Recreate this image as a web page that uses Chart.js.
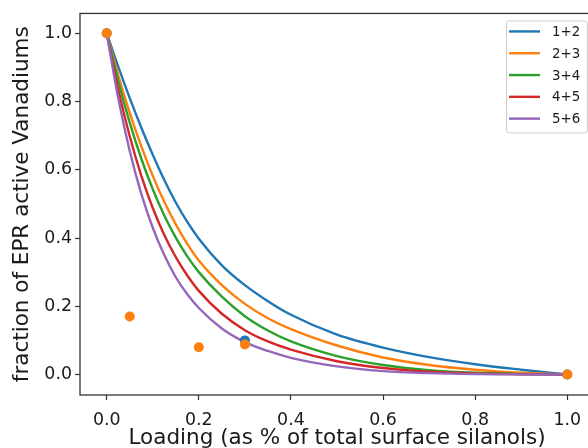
<!DOCTYPE html>
<html lang="en">
<head>
  <meta charset="UTF-8">
  <title>Fraction of EPR active Vanadiums</title>
  <script src="https://cdn.jsdelivr.net/npm/chart.js"></script>
  <style>
    html, body { margin: 0; padding: 0; background: #fff; overflow: hidden; }
    .wrap { width: 600px; height: 448px; }
  </style>
</head>
<body>
  <div class="wrap"><canvas id="eprChart" width="600" height="448"></canvas></div>

  <script>
    // loading grid used for the fitted curves
    const loading = [0, 0.025, 0.05, 0.075, 0.1, 0.125, 0.15, 0.175, 0.2, 0.25, 0.3, 0.35, 0.4, 0.5, 0.6, 0.7, 0.8, 0.9, 1.0];

    // curves
    const fit12 = [1, 0.902, 0.810, 0.724, 0.644, 0.570, 0.504, 0.447, 0.398, 0.320, 0.262, 0.215, 0.175, 0.117, 0.079, 0.051, 0.030, 0.014, 0];
    const fit23 = [1, 0.877, 0.767, 0.669, 0.582, 0.506, 0.440, 0.383, 0.334, 0.262, 0.207, 0.165, 0.133, 0.085, 0.050, 0.028, 0.014, 0.005, 0];
    const fit34 = [1, 0.860, 0.738, 0.633, 0.543, 0.466, 0.401, 0.346, 0.300, 0.228, 0.171, 0.129, 0.097, 0.054, 0.028, 0.013, 0.005, 0.0015, 0];
    const fit45 = [1, 0.835, 0.698, 0.583, 0.488, 0.409, 0.344, 0.290, 0.245, 0.178, 0.130, 0.097, 0.073, 0.039, 0.019, 0.008, 0.003, 0.001, 0];
    const fit56 = [1, 0.810, 0.655, 0.530, 0.430, 0.350, 0.285, 0.235, 0.195, 0.135, 0.095, 0.069, 0.049, 0.024, 0.010, 0.004, 0.0013, 0.0003, 0];

    const curveLabels = ['1+2', '2+3', '3+4', '4+5', '5+6'];
    const curveColors = ['#1f77b4', '#ff7f0e', '#2ca02c', '#d62728', '#9467bd'];

    // measured points
    const blueX = [0, 0.3, 1.0];
    const blueY = [1.0, 0.10, 0.0];
    const orangeX = [0, 0.05, 0.2, 0.3, 1.0];
    const orangeY = [1.0, 0.17, 0.08, 0.088, 0.0];

    const xTicks = [0, 0.2, 0.4, 0.6, 0.8, 1.0];
    const yTicks = [0, 0.2, 0.4, 0.6, 0.8, 1.0];

    const ink = '#1a1a1a';
    const spine = '#333333';

    const pair = (xs, ys) => xs.map((x, i) => ({ x: x, y: ys[i] }));

    const curves = [fit12, fit23, fit34, fit45, fit56].map((ys, i) => ({
      label: curveLabels[i],
      data: pair(loading, ys),
      showLine: true,
      borderColor: curveColors[i],
      backgroundColor: curveColors[i],
      borderWidth: 2.4,
      pointRadius: 0,
      cubicInterpolationMode: 'monotone',
      order: 6 - i,
      isCurve: true
    }));

    const dots = [
      { label: 'blue', data: pair(blueX, blueY), backgroundColor: curveColors[0], borderWidth: 0, pointRadius: 5, order: 1 },
      { label: 'orange', data: pair(orangeX, orangeY), backgroundColor: curveColors[1], borderWidth: 0, pointRadius: 5, order: 0 }
    ];

    // top/right spines like matplotlib
    const frame = {
      id: 'frame',
      afterDatasetsDraw(chart) {
        const { ctx, chartArea: a } = chart;
        ctx.save();
        ctx.strokeStyle = spine;
        ctx.lineWidth = 1.3;
        ctx.strokeRect(a.left, a.top, a.right - a.left, a.bottom - a.top);
        ctx.restore();
      }
    };

    // matplotlib style legend in the upper right
    const boxLegend = {
      id: 'boxLegend',
      afterDraw(chart) {
        const { ctx, chartArea: a } = chart;
        const items = chart.data.datasets.filter(d => d.isCurve);
        const w = 81, rowH = 21.8;
        const h = items.length * rowH + 3;
        const x = a.right - 7 - w, y = a.top + 7;
        ctx.save();
        ctx.fillStyle = 'rgba(255,255,255,0.8)';
        ctx.strokeStyle = '#cccccc';
        ctx.lineWidth = 1;
        ctx.beginPath();
        ctx.roundRect(x + 0.5, y + 0.5, w, h, 3);
        ctx.fill();
        ctx.stroke();
        ctx.font = '13.4px "DejaVu Sans"';
        ctx.textBaseline = 'middle';
        ctx.fillStyle = ink;
        items.forEach((d, i) => {
          const cy = y + 11 + i * rowH;
          ctx.strokeStyle = d.borderColor;
          ctx.lineWidth = 2.4;
          ctx.beginPath();
          ctx.moveTo(x + 3, cy);
          ctx.lineTo(x + 34, cy);
          ctx.stroke();
          ctx.fillText(d.label, x + 46, cy + 1);
        });
        ctx.restore();
      }
    };

    new Chart(document.getElementById('eprChart'), {
      type: 'scatter',
      data: { datasets: curves.concat(dots) },
      options: {
        responsive: false,
        animation: false,
        layout: { padding: { top: 12, right: 6, left: 0, bottom: 0 } },
        plugins: { legend: { display: false }, tooltip: { enabled: false } },
        scales: {
          x: {
            type: 'linear',
            min: -0.058,
            max: 1.058,
            afterFit: s => { s.height = 53; },
            afterBuildTicks: s => { s.ticks = xTicks.map(v => ({ value: v })); },
            border: { display: false },
            grid: { drawOnChartArea: false, drawTicks: true, tickLength: 5, tickWidth: 1.2, color: spine },
            ticks: {
              color: ink,
              padding: 10,
              maxRotation: 0,
              font: { family: 'DejaVu Sans', size: 17.4 },
              callback: v => v.toFixed(1)
            },
            title: {
              display: true,
              text: 'Loading (as % of total surface silanols)',
              color: ink,
              font: { family: 'DejaVu Sans', size: 21.5 },
              padding: { top: 0, bottom: -3 }
            }
          },
          y: {
            type: 'linear',
            min: -0.06,
            max: 1.058,
            afterFit: s => { s.width = 80; },
            afterBuildTicks: s => { s.ticks = yTicks.map(v => ({ value: v })); },
            border: { display: false },
            grid: { drawOnChartArea: false, drawTicks: true, tickLength: 5, tickWidth: 1.2, color: spine },
            ticks: {
              color: ink,
              padding: 3,
              font: { family: 'DejaVu Sans', size: 17.4 },
              callback: v => v.toFixed(1)
            },
            title: {
              display: true,
              text: 'fraction of EPR active Vanadiums',
              color: ink,
              font: { family: 'DejaVu Sans', size: 21.5 },
              padding: { top: 10, bottom: 0 }
            }
          }
        }
      },
      plugins: [frame, boxLegend]
    });
  </script>
</body>
</html>
